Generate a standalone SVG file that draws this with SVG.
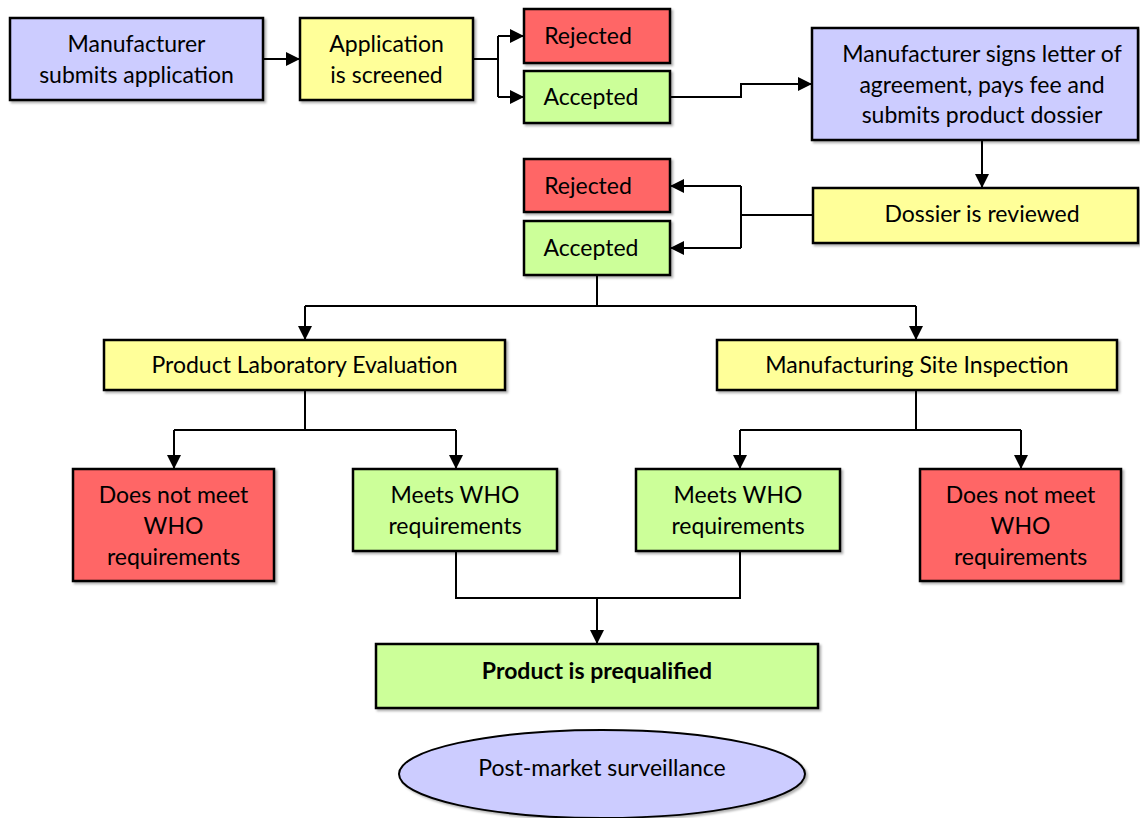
<svg xmlns="http://www.w3.org/2000/svg" width="1140" height="818" viewBox="0 0 1140 818">
<defs>
<marker id="ah" markerUnits="userSpaceOnUse" markerWidth="14" markerHeight="14" viewBox="0 0 14 14" refX="14" refY="7" orient="auto">
<path d="M0,0 L14,7 L0,14 Z" fill="#000"/>
</marker>
<filter id="sh" x="-5%" y="-5%" width="115%" height="120%">
<feDropShadow dx="2" dy="2" stdDeviation="1" flood-color="#000" flood-opacity="0.3"/>
</filter>
</defs>
<style>
rect, ellipse { stroke:#000; stroke-width:2.5; filter:url(#sh); }
.b { fill:#CCCCFF; }
.y { fill:#FFFF99; }
.r { fill:#FF6666; }
.g { fill:#CCFF99; }
text { font-family:Lato, "Open Sans", "Liberation Sans", sans-serif; font-size:23px; fill:#000; text-anchor:middle; }
.bold { font-weight:bold; }
#connectors path { fill:none; stroke:#000; stroke-width:2; }
.arr { marker-end:url(#ah); }
</style>
<rect width="1140" height="818" fill="#fff" style="stroke:none;filter:none"/>

<g id="connectors">
<path class="arr" d="M263,59 H300"/>
<path d="M473,59 H498 M498,36 V97"/>
<path class="arr" d="M498,36 H524"/>
<path class="arr" d="M498,97 H524"/>
<path class="arr" d="M670,97 H741 V84 H812"/>
<path class="arr" d="M982,140 V188"/>
<path d="M813,215 H741 M741,186 V248"/>
<path class="arr" d="M741,186 H670"/>
<path class="arr" d="M741,248 H670"/>
<path d="M597,275 V306 M305,306 H916"/>
<path class="arr" d="M305,306 V340"/>
<path class="arr" d="M916,306 V340"/>
<path d="M305,390 V430 M174,430 H456"/>
<path class="arr" d="M174,430 V469"/>
<path class="arr" d="M456,430 V469"/>
<path d="M916,390 V430 M740,430 H1021"/>
<path class="arr" d="M740,430 V469"/>
<path class="arr" d="M1021,430 V469"/>
<path d="M456,551 V598 H740 V551"/>
<path class="arr" d="M597,598 V644"/>
</g>

<g id="n-submit">
<rect class="b" x="10" y="18" width="253" height="82"/>
<text x="136.5" y="52">Manufacturer</text>
<text x="136.5" y="83">submits application</text>
</g>
<g id="n-screened">
<rect class="y" x="300" y="18" width="173" height="82"/>
<text x="386.5" y="52">Application</text>
<text x="386.5" y="83">is screened</text>
</g>
<g id="n-rejected1">
<rect class="r" x="524" y="9" width="146" height="54"/>
<text x="588" y="44">Rejected</text>
</g>
<g id="n-accepted1">
<rect class="g" x="524" y="71" width="146" height="52"/>
<text x="591" y="105">Accepted</text>
</g>
<g id="n-signs">
<rect class="b" x="812" y="28" width="326" height="112"/>
<text x="982" y="62">Manufacturer signs letter of</text>
<text x="982" y="93">agreement, pays fee and</text>
<text x="982" y="123">submits product dossier</text>
</g>
<g id="n-dossier">
<rect class="y" x="813" y="188" width="325" height="55"/>
<text x="982" y="222">Dossier is reviewed</text>
</g>
<g id="n-rejected2">
<rect class="r" x="524" y="159" width="146" height="53"/>
<text x="588" y="194">Rejected</text>
</g>
<g id="n-accepted2">
<rect class="g" x="524" y="221" width="146" height="54"/>
<text x="591" y="256">Accepted</text>
</g>
<g id="n-lab">
<rect class="y" x="104" y="340" width="401" height="50"/>
<text x="304.5" y="373">Product Laboratory Evaluation</text>
</g>
<g id="n-site">
<rect class="y" x="717" y="340" width="400" height="50"/>
<text x="917" y="373">Manufacturing Site Inspection</text>
</g>
<g id="n-fail-lab">
<rect class="r" x="73" y="469" width="201" height="112"/>
<text x="173.5" y="503">Does not meet</text>
<text x="173.5" y="534">WHO</text>
<text x="173.5" y="565">requirements</text>
</g>
<g id="n-pass-lab">
<rect class="g" x="353" y="469" width="204" height="82"/>
<text x="455" y="503">Meets WHO</text>
<text x="455" y="534">requirements</text>
</g>
<g id="n-pass-site">
<rect class="g" x="636" y="469" width="204" height="82"/>
<text x="738" y="503">Meets WHO</text>
<text x="738" y="534">requirements</text>
</g>
<g id="n-fail-site">
<rect class="r" x="920" y="469" width="201" height="112"/>
<text x="1020.5" y="503">Does not meet</text>
<text x="1020.5" y="534">WHO</text>
<text x="1020.5" y="565">requirements</text>
</g>
<g id="n-prequalified">
<rect class="g" x="376" y="644" width="442" height="64"/>
<text class="bold" x="597" y="679">Product is prequalified</text>
</g>
<g id="n-surveillance">
<ellipse class="b" cx="602" cy="774" rx="203" ry="44" style="stroke-width:2"/>
<text x="602" y="776">Post-market surveillance</text>
</g>
</svg>
